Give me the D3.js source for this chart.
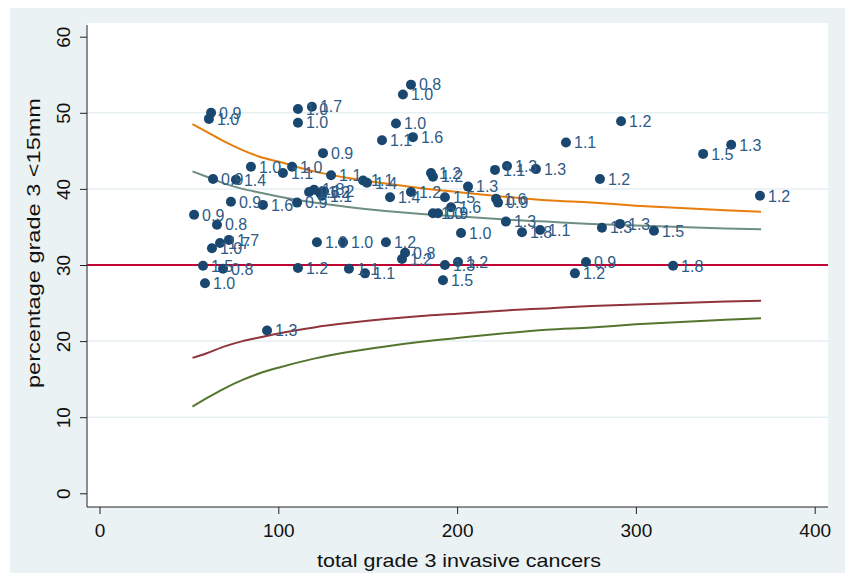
<!DOCTYPE html>
<html>
<head>
<meta charset="utf-8">
<script src="https://cdn.jsdelivr.net/npm/d3@7"></script>
<style>
  body { margin: 0; background: #fff; }
  text { font-family: Arial, "Liberation Sans", sans-serif; }
</style>
</head>
<body>
<script>
// units: total grade 3 invasive cancers, percentage grade 3 <15mm, label (ratio)
var totalGrade3 = [62.4, 61.2, 111.0, 118.8, 111.0, 174.2, 169.7, 165.8, 158.0, 175.3,
  260.9, 291.7, 337.6, 353.3, 279.9, 369.4, 125.0, 84.7, 107.7, 102.6,
  129.5, 147.4, 149.6, 63.5, 76.3, 73.5, 91.4, 52.9, 65.7, 62.9,
  67.4, 72.4, 57.9, 69.1, 59.0, 93.7, 111.0, 121.6, 136.2, 160.2,
  139.5, 148.5, 110.5, 117.2, 120.0, 123.3, 125.6, 124.4, 185.4, 186.5,
  174.2, 162.5, 193.2, 206.1, 196.6, 186.5, 189.3, 221.2, 227.9, 244.1,
  221.8, 222.9, 227.3, 236.3, 246.4, 202.2, 170.9, 169.2, 193.2, 200.5,
  192.1, 272.1, 265.9, 281.0, 291.1, 310.1, 320.8];
var pctUnder15 = [50.0, 49.2, 50.5, 50.8, 48.7, 53.7, 52.4, 48.6, 46.4, 46.8,
  46.1, 48.9, 44.6, 45.8, 41.3, 39.1, 44.7, 42.9, 42.9, 42.1,
  41.8, 41.1, 40.8, 41.3, 41.2, 38.3, 37.9, 36.6, 35.3, 32.2,
  32.9, 33.3, 29.9, 29.5, 27.6, 21.4, 29.6, 33.0, 33.0, 33.0,
  29.5, 28.9, 38.2, 39.6, 39.9, 39.5, 39.7, 39.1, 42.1, 41.6,
  39.6, 38.9, 38.9, 40.3, 37.6, 36.8, 36.8, 42.5, 43.0, 42.6,
  38.7, 38.2, 35.7, 34.3, 34.6, 34.2, 31.6, 30.8, 30.0, 30.4,
  28.0, 30.4, 28.9, 34.9, 35.4, 34.5, 29.9];
var ratioLabels = ["0.9", "1.0", "1.0", "1.7", "1.0", "0.8", "1.0", "1.0", "1.1", "1.6",
  "1.1", "1.2", "1.5", "1.3", "1.2", "1.2", "0.9", "1.0", "1.0", "1.1",
  "1.1", "1.1", "1.4", "0.9", "1.4", "0.9", "1.6", "0.9", "0.8", "1.0",
  "1.7", "1.7", "1.5", "0.8", "1.0", "1.3", "1.2", "1.0", "1.0", "1.2",
  "1.1", "1.1", "0.9", "1.6", "1.8", "1.2", "1.2", "1.1", "1.2", "1.2",
  "1.2", "1.4", "1.5", "1.3", "1.6", "1.0", "0.9", "1.1", "1.3", "1.3",
  "1.6", "0.9", "1.3", "1.8", "1.1", "1.0", "0.8", "1.2", "1.3", "1.2",
  "1.5", "0.9", "1.2", "1.3", "1.3", "1.5", "1.8"];

// funnel limits
var funnelN = [52, 60, 70, 80, 90, 100, 120, 140, 160, 180, 200, 225, 250, 275, 300, 325, 350, 370];
var upper998 = [48.5, 47.5, 46.2, 45.1, 44.2, 43.6, 42.3, 41.4, 40.7, 40.1, 39.6, 39.0, 38.5, 38.2, 37.8, 37.5, 37.2, 37.0];
var upper95 = [42.3, 41.6, 40.7, 40.0, 39.5, 39.0, 38.2, 37.6, 37.1, 36.7, 36.4, 36.0, 35.7, 35.4, 35.2, 35.0, 34.8, 34.7];
var lower95 = [17.8, 18.4, 19.3, 20.0, 20.5, 21.0, 21.8, 22.4, 22.9, 23.3, 23.6, 24.0, 24.3, 24.6, 24.8, 25.0, 25.2, 25.3];
var lower998 = [11.4, 12.5, 13.8, 14.9, 15.8, 16.5, 17.7, 18.6, 19.3, 19.9, 20.4, 21.0, 21.5, 21.8, 22.2, 22.5, 22.8, 23.0];
var target = 30;

var xTicks = [0, 100, 200, 300, 400];
var yTicks = [0, 10, 20, 30, 40, 50, 60];
var gridTicks = [10, 20, 40, 50];

var width = 845, height = 573;
var plotLeft = 87, plotRight = 828, plotTop = 23, plotBottom = 507;

var svg = d3.select("body").append("svg")
    .attr("width", width)
    .attr("height", height);

// graph region + plot region
svg.append("rect")
    .attr("x", 10).attr("y", 8)
    .attr("width", width - 10).attr("height", height - 8)
    .attr("fill", "#eaf2f3");
svg.append("rect")
    .attr("x", plotLeft).attr("y", plotTop)
    .attr("width", plotRight - plotLeft).attr("height", plotBottom - plotTop)
    .attr("fill", "#ffffff");

var x = d3.scaleLinear().domain([0, 400]).range([99.5, 814.7]);
var y = d3.scaleLinear().domain([0, 60]).range([493.3, 36.7]);

// grid
svg.selectAll("line.grid")
    .data(gridTicks)
    .enter().append("line")
    .attr("class", "grid")
    .attr("x1", plotLeft).attr("x2", plotRight)
    .attr("y1", function(d){return y(d);})
    .attr("y2", function(d){return y(d);})
    .attr("stroke", "#e6eff1")
    .attr("stroke-width", 1.5);

// axes
var yAxis = svg.append("g")
    .attr("transform", "translate(" + plotLeft + ",0)")
    .call(d3.axisLeft(y).tickValues(yTicks).tickSize(7).tickSizeOuter(0));
yAxis.select(".domain").remove();
yAxis.selectAll(".tick line").attr("stroke", "#222");
yAxis.selectAll(".tick text")
    .attr("x", 0).attr("dy", 0)
    .attr("transform", "translate(-17,0) rotate(-90)")
    .attr("text-anchor", "middle")
    .attr("font-size", 19)
    .attr("font-family", "Arial, 'Liberation Sans', sans-serif")
    .attr("fill", "#111");
svg.append("line")
    .attr("x1", plotLeft).attr("x2", plotLeft)
    .attr("y1", plotTop + 2).attr("y2", plotBottom)
    .attr("stroke", "#222").attr("stroke-width", 1);

var xAxis = svg.append("g")
    .attr("transform", "translate(0," + plotBottom + ")")
    .call(d3.axisBottom(x).tickValues(xTicks).tickSize(7).tickSizeOuter(0));
xAxis.select(".domain").remove();
xAxis.selectAll(".tick line").attr("stroke", "#222");
xAxis.selectAll(".tick text")
    .attr("y", 30).attr("dy", 0)
    .attr("font-size", 19)
    .attr("font-family", "Arial, 'Liberation Sans', sans-serif")
    .attr("fill", "#111");
svg.append("line")
    .attr("x1", plotLeft).attr("x2", plotRight)
    .attr("y1", plotBottom).attr("y2", plotBottom)
    .attr("stroke", "#222").attr("stroke-width", 1);

// axis titles
svg.append("text")
    .attr("x", 459).attr("y", 567)
    .attr("text-anchor", "middle")
    .attr("font-size", 19)
    .attr("textLength", 284)
    .attr("lengthAdjust", "spacingAndGlyphs")
    .attr("fill", "#111")
    .text("total grade 3 invasive cancers");
svg.append("text")
    .attr("transform", "translate(40,243) rotate(-90)")
    .attr("text-anchor", "middle")
    .attr("font-size", 19)
    .attr("textLength", 290)
    .attr("lengthAdjust", "spacingAndGlyphs")
    .attr("fill", "#111")
    .text("percentage grade 3 <15mm");

// funnel lines
var funnels = [
  {vals: lower998, color: "#55752f"},
  {vals: lower95, color: "#90353b"},
  {vals: upper95, color: "#6e8e84"},
  {vals: upper998, color: "#e87d0c"}
];
var line = d3.line()
    .x(function(d, i){return x(funnelN[i]);})
    .y(function(d){return y(d);})
    .curve(d3.curveMonotoneX);
svg.selectAll("path.funnel")
    .data(funnels)
    .enter().append("path")
    .attr("class", "funnel")
    .attr("d", function(d){return line(d.vals);})
    .attr("fill", "none")
    .attr("stroke", function(d){return d.color;})
    .attr("stroke-width", 2);

// target line
svg.append("line")
    .attr("x1", plotLeft).attr("x2", plotRight)
    .attr("y1", y(target)).attr("y2", y(target))
    .attr("stroke", "#c10534")
    .attr("stroke-width", 2);

// points with labels
var units = totalGrade3.map(function(d, i){
  return {n: d, pct: pctUnder15[i], label: ratioLabels[i]};
});
svg.selectAll("circle.unit")
    .data(units)
    .enter().append("circle")
    .attr("class", "unit")
    .attr("cx", function(d){return x(d.n);})
    .attr("cy", function(d){return y(d.pct);})
    .attr("r", 5)
    .attr("fill", "#1a476f");
svg.selectAll("text.lbl")
    .data(units)
    .enter().append("text")
    .attr("class", "lbl")
    .attr("x", function(d){return x(d.n) + 8;})
    .attr("y", function(d){return y(d.pct);})
    .attr("dy", "0.36em")
    .attr("font-size", 16)
    .attr("fill", "#2d5b86")
    .text(function(d){return d.label;});
</script>
</body>
</html>
